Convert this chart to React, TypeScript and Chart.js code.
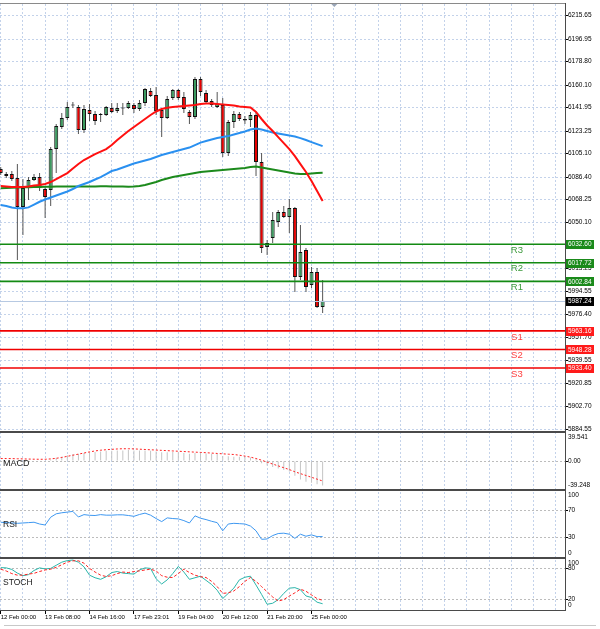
import React, { useEffect, useRef } from 'react';
import { Chart, registerables } from 'chart.js';

Chart.register(...registerables);

// ---------- data ----------
const xLabels = ['12 Feb 00:00', '13 Feb 08:00', '14 Feb 16:00', '17 Feb 23:01', '19 Feb 04:00', '20 Feb 12:00', '21 Feb 20:00', '25 Feb 00:00'];

const opens = [6092.8, 6088.8, 6088.8, 6085.6, 6062.4, 6077.6, 6084.0, 6086.4, 6076.8, 6076.0, 6108.9, 6126.5, 6133.7, 6143.7, 6142.5, 6124.1, 6140.1, 6136.9, 6136.9, 6136.1, 6141.7, 6139.3, 6141.7, 6141.7, 6144.1, 6140.9, 6145.7, 6155.3, 6152.1, 6140.1, 6133.7, 6149.7, 6156.1, 6150.5, 6138.5, 6134.5, 6164.9, 6153.7, 6147.3, 6142.5, 6144.1, 6105.7, 6130.5, 6136.9, 6132.9, 6132.1, 6136.1, 6098.4, 6030.3, 6037.6, 6050.4, 6058.4, 6054.4, 6061.6, 6006.3, 6027.9, 5999.9, 6010.3, 5982.3];
const highs = [6094.4, 6090.4, 6091.2, 6096.8, 6084.8, 6086.4, 6088.8, 6089.6, 6078.4, 6110.5, 6128.9, 6137.7, 6146.5, 6146.5, 6144.1, 6144.1, 6144.9, 6139.3, 6137.7, 6143.3, 6145.7, 6145.7, 6145.7, 6147.3, 6145.7, 6148.1, 6157.7, 6157.7, 6158.5, 6141.7, 6151.3, 6156.9, 6156.9, 6154.5, 6140.1, 6166.5, 6166.5, 6156.1, 6148.9, 6154.5, 6149.7, 6132.1, 6139.3, 6138.5, 6135.3, 6138.5, 6138.5, 6105.7, 6036.0, 6058.4, 6060.0, 6063.2, 6068.8, 6062.4, 6048.0, 6029.5, 6014.3, 6013.5, 6003.9];
const lows = [6088.0, 6085.6, 6083.2, 6019.9, 6040.0, 6068.0, 6083.2, 6075.2, 6053.6, 6063.2, 6089.6, 6124.9, 6132.1, 6141.7, 6120.9, 6121.7, 6131.3, 6128.1, 6130.5, 6135.3, 6137.7, 6137.7, 6136.1, 6140.9, 6137.7, 6139.3, 6143.3, 6150.5, 6136.1, 6118.5, 6132.9, 6148.1, 6148.1, 6137.7, 6128.9, 6132.9, 6151.3, 6145.7, 6142.5, 6141.7, 6102.5, 6103.3, 6125.7, 6131.3, 6128.9, 6126.5, 6087.2, 6025.5, 6023.9, 6033.6, 6046.4, 6053.6, 6041.6, 5994.3, 6003.9, 5994.3, 5997.5, 5981.5, 5977.5];
const closes = [6089.6, 6087.2, 6084.8, 6062.4, 6077.6, 6084.0, 6086.4, 6077.6, 6070.4, 6108.9, 6127.3, 6133.7, 6142.5, 6144.1, 6124.1, 6140.9, 6136.9, 6131.3, 6136.1, 6142.5, 6138.5, 6141.7, 6141.3, 6145.7, 6140.9, 6145.7, 6156.9, 6151.3, 6139.3, 6133.7, 6148.9, 6156.1, 6149.7, 6140.9, 6134.5, 6164.9, 6154.5, 6146.5, 6144.1, 6144.9, 6105.7, 6130.5, 6136.9, 6132.9, 6131.7, 6136.1, 6098.4, 6029.5, 6033.6, 6052.0, 6058.4, 6054.4, 6061.6, 6006.3, 6026.3, 5998.3, 6010.3, 5982.3, 5987.24];

const maRed = [6079.2, 6078.8, 6078.4, 6078.4, 6078.4, 6078.8, 6079.6, 6080.0, 6080.8, 6082.4, 6084.8, 6087.2, 6089.6, 6093.2, 6096.8, 6100.0, 6102.4, 6104.8, 6106.8, 6108.8, 6112.0, 6116.1, 6119.7, 6123.3, 6126.5, 6129.7, 6132.9, 6136.1, 6138.9, 6140.9, 6141.9, 6142.5, 6142.9, 6143.3, 6143.7, 6144.1, 6144.9, 6145.3, 6145.3, 6144.9, 6144.5, 6144.1, 6143.7, 6142.9, 6142.5, 6142.1, 6138.5, 6132.9, 6127.7, 6123.3, 6118.4, 6113.6, 6108.8, 6103.2, 6096.8, 6090.4, 6083.2, 6075.2, 6067.2];
const maBlue = [6064.0, 6063.2, 6062.0, 6061.3, 6061.3, 6062.1, 6064.3, 6066.6, 6068.4, 6070.0, 6071.6, 6073.2, 6074.8, 6076.8, 6079.2, 6080.8, 6082.4, 6084.4, 6086.4, 6088.8, 6091.2, 6092.4, 6094.0, 6095.6, 6097.2, 6098.4, 6099.6, 6100.8, 6102.4, 6104.0, 6105.2, 6106.4, 6107.6, 6108.8, 6110.0, 6112.0, 6114.0, 6115.2, 6116.4, 6117.6, 6118.4, 6119.2, 6120.5, 6121.7, 6122.9, 6124.5, 6125.3, 6124.5, 6123.3, 6122.1, 6121.3, 6120.5, 6119.7, 6118.9, 6117.6, 6116.1, 6114.4, 6112.8, 6111.2];
const maGreen = [6077.4, 6077.6, 6077.8, 6078.0, 6078.2, 6078.3, 6078.4, 6078.4, 6078.6, 6078.7, 6078.8, 6078.8, 6078.8, 6078.8, 6078.8, 6078.9, 6078.9, 6078.9, 6079.0, 6079.0, 6078.9, 6078.8, 6078.8, 6078.7, 6078.8, 6079.2, 6080.0, 6081.2, 6082.4, 6084.0, 6085.2, 6086.4, 6087.2, 6088.0, 6088.8, 6089.6, 6090.4, 6090.8, 6091.2, 6091.6, 6092.0, 6092.4, 6092.8, 6093.2, 6093.6, 6094.4, 6094.8, 6094.0, 6093.2, 6092.4, 6091.6, 6090.8, 6090.0, 6089.2, 6088.8, 6088.8, 6089.2, 6089.6, 6089.9];

const macdHist = [1, 0.5, 0, -1.5, -1.5, -1, -0.5, -0.5, -1, 2, 4.5, 6, 8, 9.5, 9.5, 11, 12, 12.5, 13, 14, 14, 14.5, 14.5, 15, 14.5, 14.5, 14.5, 14, 13, 12, 12, 12.5, 12, 11, 10, 11, 11, 10.5, 10, 9.5, 7, 6.5, 6, 6, 5.5, 5, 2.5, -3, -6, -8, -10, -12, -14, -20, -25, -28, -29.5, -31.5, -33];
const macdSignal = [3.5, 3.5, 3.4, 3.2, 3.0, 2.8, 2.6, 2.5, 2.5, 3.0, 3.8, 5.0, 6.5, 8.0, 9.5, 11.0, 12.5, 13.8, 14.8, 15.5, 16.0, 16.5, 16.8, 16.8, 16.6, 16.2, 15.8, 15.4, 15.0, 14.6, 14.2, 13.8, 13.4, 13.0, 12.6, 12.2, 11.8, 11.4, 10.9, 10.4, 9.9, 9.4, 9.0, 8.0, 6.8, 5.4, 3.5, 1.2, -1.4, -4.0, -6.5, -9.0, -11.5, -14.5, -17.0, -19.5, -22.0, -24.5, -27.0];

const rsiValues = [52.6, 52, 51.5, 51, 51.5, 52, 52.6, 50, 48.5, 60, 65, 66.5, 67.5, 68.5, 60.3, 63.8, 62.8, 62.5, 63.8, 63, 63, 63.5, 63.5, 62.5, 61.3, 64, 66, 63, 58, 53.5, 59, 58, 57.5, 55, 51.5, 62, 58.5, 56.5, 54, 52, 40, 50, 51, 50.5, 50, 47, 40, 27.5, 28, 33, 36, 36.5, 35, 28.9, 35, 32, 34, 31.5, 31.5];

const stochMain = [81.5, 81, 78, 71, 66, 68, 76, 81, 79, 80, 86, 92, 95, 96, 92, 83, 67, 62, 59, 64, 72, 74, 71, 70, 69, 77, 81, 80, 60, 50, 58, 70, 83.8, 73, 59, 62, 65, 57, 49, 38, 22, 32, 42, 58, 63, 65, 48, 30, 11, 13, 20, 32, 42, 43, 39, 27, 24, 15, 12];
const stochSignal = [78.5, 75, 70, 67, 67, 69, 70.5, 74, 77, 78.5, 82, 87, 92, 94.6, 94.6, 90, 80, 73, 67, 64.4, 66, 70, 73, 72, 74, 75.2, 77, 78.5, 75, 66, 63, 62.5, 70, 78.5, 72, 66.9, 64, 62.5, 55, 45, 32, 33, 36.6, 45, 55, 62.5, 55, 45, 35, 25, 17.2, 20, 26.9, 33, 40, 36, 29, 22, 18.6];

const mainTicks = [6215.65, 6196.95, 6178.80, 6160.10, 6141.95, 6123.25, 6105.10, 6086.40, 6068.25, 6050.10, 6013.25, 5994.55, 5976.40, 5957.70, 5939.55, 5920.85, 5902.70, 5884.55];
const macdTicks = [0];
const macdEdgeLabels = ['39.541', '-39.248'];
const rsiTicks = [70, 30];
const rsiEdgeLabels = ['100', '0'];
const stochTicks = [80, 20];
const stochEdgeLabels = ['100', '0'];

const levelNames = ['R3', 'R2', 'R1', 'S1', 'S2', 'S3'];
const levelValues = [6032.60, 6017.72, 6002.84, 5963.16, 5948.28, 5933.40];
const currentPrice = 5987.24;

// ---------- styling ----------
const FONT = "'Liberation Sans', Arial, sans-serif";
const GRID_BLUE = '#c3d2ea';
const GRID_GRAY = '#bcbcbc';
const UP = '#3c9a60';
const DOWN = '#e60000';
const X_MIN = -0.13;
const X_MAX = 101.67;

export default function App() {
  const ref = useRef<HTMLCanvasElement | null>(null);

  useEffect(() => {
    const canvas = ref.current;
    if (!canvas) return;
    const idx = closes.map((_, i) => i);
    const isUp = (i: number) => closes[i] >= opens[i];
    const gridTicks: number[] = [];
    for (let v = 0; v <= 100; v += 4) gridTicks.push(v);

    const yFit = (s: any) => {
      s.width = 35;
      s.paddingTop = 0;
      s.paddingBottom = 0;
    };

    const overlay = {
      id: 'overlay',
      afterDatasetsDraw(chart: any) {
        const { ctx, chartArea } = chart;
        const y = chart.scales.yMain;
        const x = chart.scales.x;
        ctx.save();
        ctx.beginPath();
        ctx.rect(chartArea.left, y.top, chartArea.right - chartArea.left, y.bottom - y.top);
        ctx.clip();
        // current price line
        const cy = Math.round(y.getPixelForValue(currentPrice)) + 0.5;
        ctx.strokeStyle = '#b7c9e2';
        ctx.lineWidth = 1;
        ctx.beginPath();
        ctx.moveTo(chartArea.left, cy);
        ctx.lineTo(chartArea.right, cy);
        ctx.stroke();
        // levels
        levelValues.forEach((v, k) => {
          const isR = levelNames[k].startsWith('R');
          const ly = y.getPixelForValue(v);
          ctx.strokeStyle = isR ? '#138a13' : '#f00000';
          ctx.lineWidth = 1.6;
          ctx.beginPath();
          ctx.moveTo(chartArea.left, ly);
          ctx.lineTo(chartArea.right, ly);
          ctx.stroke();
          ctx.fillStyle = isR ? '#3c9a3c' : '#ff4040';
          ctx.font = `9.5px ${FONT}`;
          ctx.textAlign = 'center';
          ctx.textBaseline = 'middle';
          ctx.fillText(levelNames[k], x.getPixelForValue(93), ly + 6);
        });
        ctx.restore();
      },
      afterDraw(chart: any) {
        const { ctx, chartArea } = chart;
        const s = chart.scales;
        const x = s.x;
        ctx.save();
        // frames
        ctx.fillStyle = '#8a8a8a';
        ctx.fillRect(chartArea.left, chartArea.top - 1, chartArea.right - chartArea.left, 1);
        ctx.fillStyle = '#4a4a4a';
        [s.yMacd.top, s.yRsi.top, s.yStoch.top].forEach((t: number) => {
          ctx.fillRect(chartArea.left, Math.round(t) - 1, chartArea.right - chartArea.left, 2);
        });
        ctx.fillRect(chartArea.left, chartArea.bottom, chartArea.right - chartArea.left, 1);
        ctx.fillRect(chartArea.right, chartArea.top - 1, 1, chartArea.bottom - chartArea.top + 2);

        // chart shift marker
        const tx = x.getPixelForValue(60.1);
        ctx.fillStyle = '#9aa6b8';
        ctx.beginPath();
        ctx.moveTo(tx - 3, chartArea.top);
        ctx.lineTo(tx + 3, chartArea.top);
        ctx.lineTo(tx, chartArea.top + 3);
        ctx.closePath();
        ctx.fill();

        // axis boxes
        const y = s.yMain;
        ctx.font = `6.5px ${FONT}`;
        ctx.textBaseline = 'middle';
        ctx.textAlign = 'left';
        const box = (v: number, fill: string) => {
          const by = y.getPixelForValue(v);
          ctx.fillStyle = fill;
          ctx.fillRect(chartArea.right + 1, Math.round(by) - 4, 28, 9);
          ctx.fillStyle = '#ffffff';
          ctx.fillText(v.toFixed(2), chartArea.right + 3, by + 0.5);
        };
        levelValues.forEach((v, k) => box(v, levelNames[k].startsWith('R') ? '#1a8a1a' : '#ff1a1a'));
        box(currentPrice, '#000000');

        // sub-panel edge labels
        ctx.fillStyle = '#000';
        const edge = (sc: any, labels: string[]) => {
          ctx.fillText(labels[0], chartArea.right + 3, sc.top + 5);
          ctx.fillText(labels[1], chartArea.right + 3, sc.bottom - 5);
        };
        edge(s.yMacd, macdEdgeLabels);
        edge(s.yRsi, rsiEdgeLabels);
        edge(s.yStoch, stochEdgeLabels);

        // panel names
        ctx.fillStyle = '#1a1a1a';
        ctx.font = `9px ${FONT}`;
        ctx.fillText('MACD', 3, 464);
        ctx.font = `8.5px ${FONT}`;
        ctx.fillText('RSI', 3, 525);
        ctx.fillText('STOCH', 3, 583);

        // tab bar line at bottom
        ctx.fillStyle = '#c8c8c8';
        ctx.fillRect(4, 625, 592, 1);
        ctx.restore();
      },
    };

    const lineDs = (data: number[], axis: string, color: string, width: number, dash: number[] = [], order = 0) => ({
      type: 'line' as const,
      yAxisID: axis,
      data: idx.map((i) => ({ x: i, y: data[i] })),
      borderColor: color,
      borderWidth: width,
      borderDash: dash,
      pointRadius: 0,
      tension: 0,
      fill: false,
      order,
    });

    const chart = new Chart(canvas, {
      type: 'line',
      data: {
        datasets: [
          lineDs(maRed, 'yMain', '#ff1010', 2, [], 1),
          lineDs(maBlue, 'yMain', '#2a90f0', 2, [], 1),
          lineDs(maGreen, 'yMain', '#1c8a1c', 2, [], 1),
          {
            type: 'bar',
            yAxisID: 'yMain',
            data: idx.map((i) => ({ x: i, y: [opens[i], closes[i]] })) as any,
            backgroundColor: (c: any) => (isUp(c.dataIndex) ? UP : DOWN),
            borderColor: '#111',
            borderWidth: 1,
            borderSkipped: false,
            barThickness: 4,
            minBarLength: 1,
            grouped: false,
            inflateAmount: 0,
            order: 2,
          } as any,
          {
            type: 'bar',
            yAxisID: 'yMain',
            data: idx.map((i) => ({ x: i, y: [lows[i], highs[i]] })) as any,
            backgroundColor: '#555',
            borderWidth: 0,
            barThickness: 1,
            grouped: false,
            inflateAmount: 0,
            order: 3,
          } as any,
          {
            type: 'bar',
            yAxisID: 'yMacd',
            data: idx.map((i) => ({ x: i, y: macdHist[i] })) as any,
            backgroundColor: '#c4c4c4',
            borderWidth: 0,
            barThickness: 1,
            grouped: false,
            inflateAmount: 0,
            order: 3,
          } as any,
          lineDs(macdSignal, 'yMacd', '#ff2020', 1, [2, 2], 1),
          lineDs(rsiValues, 'yRsi', '#3d97f0', 1, [], 1),
          lineDs(stochMain, 'yStoch', '#2ab5aa', 1, [], 2),
          lineDs(stochSignal, 'yStoch', '#ff2020', 1, [3, 2], 1),
        ] as any,
      },
      options: {
        responsive: false,
        animation: false,
        devicePixelRatio: 1,
        events: [],
        layout: { padding: { top: 4, left: 0, right: 0, bottom: 0 } },
        plugins: { legend: { display: false }, tooltip: { enabled: false } },
        scales: {
          x: {
            type: 'linear',
            position: 'bottom',
            min: X_MIN,
            max: X_MAX,
            offset: false,
            grid: {
              offset: false,
              color: GRID_BLUE,
              lineWidth: 1,
              tickLength: 4,
              tickColor: (c: any) => (c.tick && c.tick.value % 8 === 0 && c.tick.value / 8 < xLabels.length ? '#000' : 'rgba(0,0,0,0)'),
            },
            border: { display: false, dash: [2, 2] },
            ticks: {
              autoSkip: false,
              maxRotation: 0,
              minRotation: 0,
              align: 'start',
              padding: 0,
              color: '#000',
              font: { family: FONT, size: 6 },
              callback: (v: any) => {
                const n = Number(v);
                return n % 8 === 0 && n / 8 < xLabels.length ? xLabels[n / 8] : '';
              },
            },
            afterBuildTicks: (sc: any) => {
              sc.ticks = gridTicks.map((v) => ({ value: v }));
            },
            afterFit: (sc: any) => {
              sc.height = 19;
              sc.paddingLeft = 0;
              sc.paddingRight = 0;
            },
          } as any,
          yMain: {
            type: 'linear',
            position: 'right',
            stack: 'panels',
            stackWeight: 428,
            min: 5882.15,
            max: 6225.02,
            beginAtZero: false,
            grid: { color: GRID_BLUE, tickLength: 3, tickColor: '#000' },
            border: { display: false, dash: [2, 2] },
            ticks: { padding: 0, color: '#000', font: { family: FONT, size: 6.5 }, callback: (v: any) => Number(v).toFixed(2) },
            afterBuildTicks: (sc: any) => {
              sc.ticks = mainTicks.map((v) => ({ value: v }));
            },
            afterFit: yFit,
          } as any,
          yMacd: {
            type: 'linear',
            position: 'right',
            stack: 'panels',
            stackWeight: 58,
            min: -39.248,
            max: 39.541,
            grid: { color: GRID_GRAY, tickLength: 3, tickColor: '#000' },
            border: { display: false, dash: [2, 2] },
            ticks: { padding: 0, color: '#000', font: { family: FONT, size: 6.5 }, callback: (v: any) => Number(v).toFixed(2) },
            afterBuildTicks: (sc: any) => {
              sc.ticks = macdTicks.map((v) => ({ value: v }));
            },
            afterFit: yFit,
          } as any,
          yRsi: {
            type: 'linear',
            position: 'right',
            stack: 'panels',
            stackWeight: 68,
            min: 0,
            max: 100,
            grid: { color: GRID_GRAY, tickLength: 3, tickColor: '#000' },
            border: { display: false, dash: [2, 2] },
            ticks: { padding: 0, color: '#000', font: { family: FONT, size: 6.5 }, callback: (v: any) => String(v) },
            afterBuildTicks: (sc: any) => {
              sc.ticks = rsiTicks.map((v) => ({ value: v }));
            },
            afterFit: yFit,
          } as any,
          yStoch: {
            type: 'linear',
            position: 'right',
            stack: 'panels',
            stackWeight: 52,
            min: 0,
            max: 100,
            grid: { color: GRID_GRAY, tickLength: 3, tickColor: '#000' },
            border: { display: false, dash: [2, 2] },
            ticks: { padding: 0, color: '#000', font: { family: FONT, size: 6.5 }, callback: (v: any) => String(v) },
            afterBuildTicks: (sc: any) => {
              sc.ticks = stochTicks.map((v) => ({ value: v }));
            },
            afterFit: yFit,
          } as any,
        },
      } as any,
      plugins: [overlay],
    });
    return () => chart.destroy();
  }, []);

  return (
    <div style={{ position: 'fixed', left: 0, top: 0, width: 600, height: 629, background: '#ffffff' }}>
      <canvas ref={ref} width={600} height={629} style={{ display: 'block' }} />
    </div>
  );
}
